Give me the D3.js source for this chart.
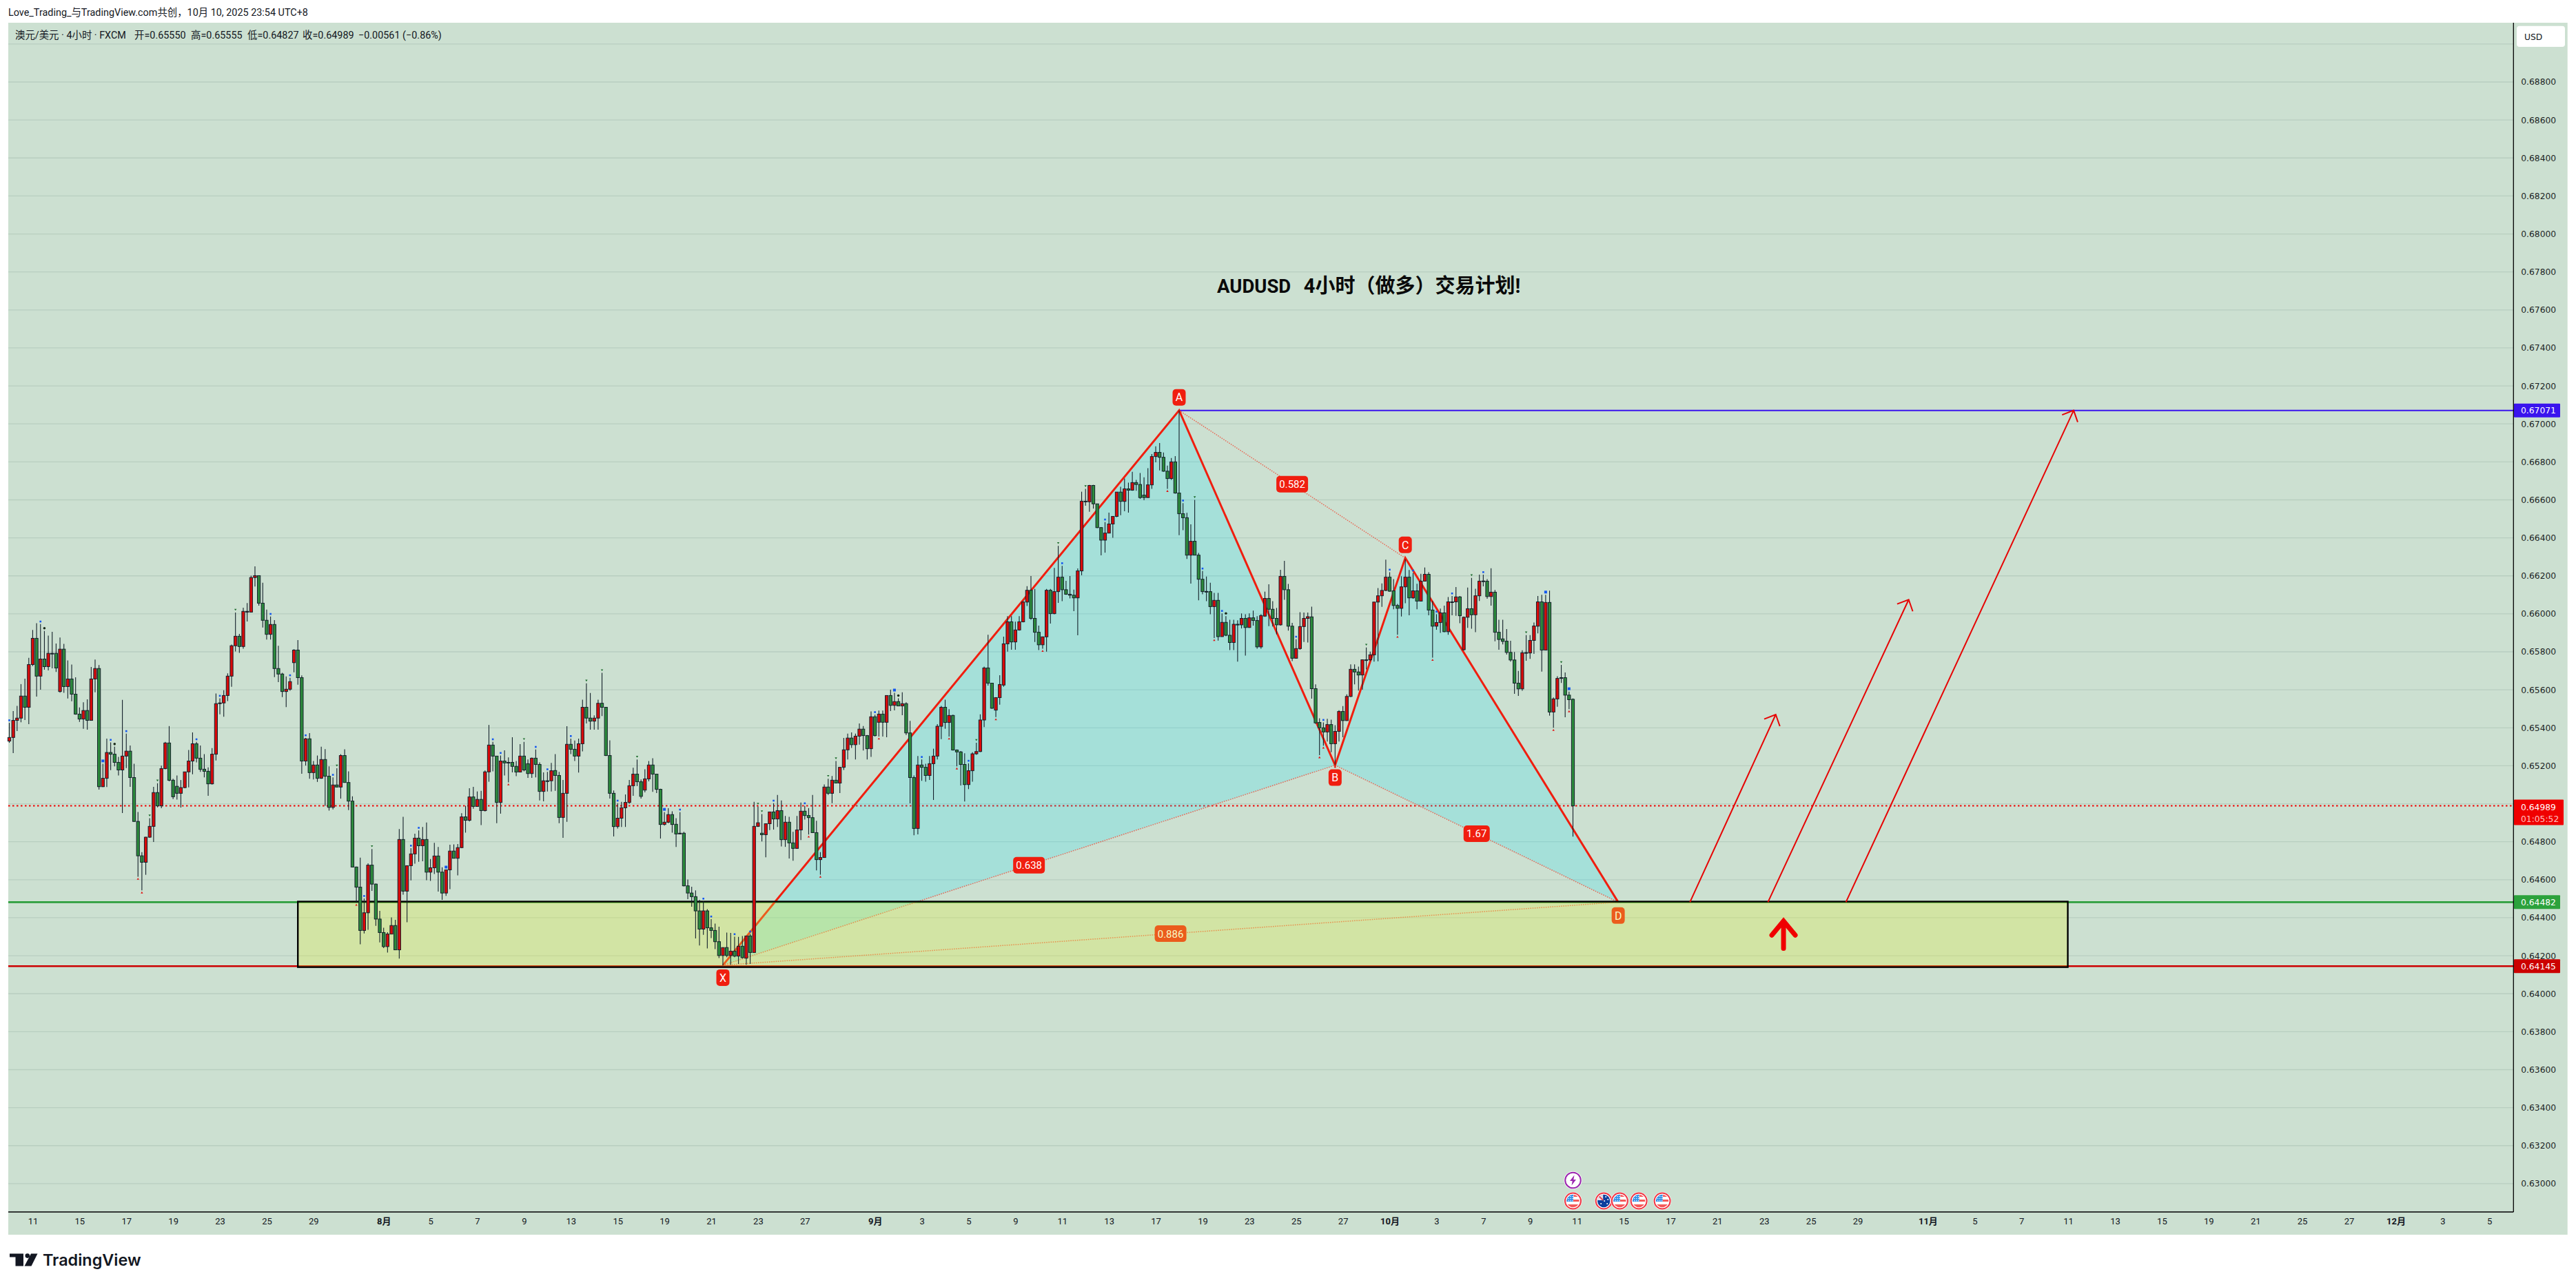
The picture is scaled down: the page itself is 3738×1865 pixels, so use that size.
<!DOCTYPE html>
<html>
<head>
<meta charset="utf-8">
<title>AUDUSD 4H</title>
<script src="https://cdn.jsdelivr.net/npm/d3@7"></script>
<style>
  html, body { margin: 0; padding: 0; background: #fff; }
  svg { display: block; }
  text { font-family: "Roboto", "Noto Sans CJK SC", sans-serif; white-space: pre; }
</style>
</head>
<body>
<svg id="chart" width="3738" height="1865"></svg>
<script>
// AUD/USD 4-hour candles, in points of 0.00001.
const opens = [
65330,65349,65439,65451,65567,65508,65733,65871,65672,65762,
65722,65792,65792,65591,65814,65617,65657,65577,65472,65446,
65491,65439,65657,65712,65090,65134,65270,65261,65218,65178,
65251,65277,65138,64907,64726,64692,64824,64881,65059,64989,
65185,65320,65124,65092,65055,65085,65168,65225,65316,65240,
65182,65171,65105,65261,65527,65531,65570,65672,65832,65882,
65828,66009,66009,66191,66201,66056,65966,65892,65944,65712,
65683,65591,65603,65743,65809,65664,65225,65342,65164,65204,
65134,65233,65145,64981,65099,65088,65254,65112,65014,64667,
64561,64333,64426,64677,64577,64393,64322,64248,64314,64359,
64231,64812,64540,64674,64736,64819,64779,64812,64640,64663,
64725,64640,64530,64652,64751,64713,64769,64931,64913,65036,
64986,65023,64964,65168,65309,65251,65007,65225,65218,65218,
65197,65167,65251,65211,65159,65240,65207,65065,65121,65121,
65175,65149,64928,65055,65313,65287,65251,65316,65508,65451,
65435,65451,65529,65508,65254,65055,64880,64924,64979,65007,
65095,65156,65116,65072,65131,65204,65156,65076,64891,64903,
64943,64892,64841,64845,64568,64530,64511,64436,64340,64436,
64347,64333,64274,64201,64243,64201,64224,64198,64250,64187,
64304,64217,64881,64845,64837,64895,64957,64920,64964,64811,
64903,64794,64765,64862,64961,64938,64927,64848,64706,64717,
65088,65055,65124,65109,65192,65284,65346,65311,65356,65393,
65359,65290,65458,65429,65472,65429,65570,65518,65538,65515,
65527,65373,65138,64870,65204,65192,65149,65211,65251,65408,
65508,65428,65465,65283,65273,65207,65101,65174,65263,65275,
65441,65715,65635,65493,65559,65625,65842,65958,65852,65915,
65958,66062,66124,65976,65903,65837,65879,66124,66001,66117,
66193,66127,66103,66098,66084,66226,66593,66590,66676,66579,
66454,66388,66425,66473,66513,66641,66592,66658,66651,66691,
66681,66625,66612,66679,66828,66850,66824,66751,66712,66800,
66636,66527,66506,66309,66382,66309,66182,66118,66117,66038,
66071,65880,65955,65887,65849,65945,65942,65976,65928,65979,
65965,65826,65988,66081,66024,65976,65942,66197,66127,65935,
65766,65817,65933,65976,65984,65606,65428,65400,65378,65417,
65316,65381,65486,65438,65565,65708,65694,65678,65758,65758,
65784,66062,66095,66123,66193,66121,66044,66029,66142,66193,
66084,66121,66067,66172,66208,66020,65935,65954,66005,65906,
66063,66063,66089,65811,65982,66027,65995,66095,66173,66172,
66091,66114,65903,65868,65856,65797,65757,65635,65605,65796,
65794,65860,65935,66063,65809,66060,65483,65552,65664,65664,
65572,65550];

const highs = [
65426,65488,65515,65630,65659,65768,65915,65951,65946,65910,
65885,65905,65844,65875,65842,65755,65733,65666,65507,65534,
65550,65720,65759,65730,65211,65343,65323,65300,65247,65547,
65369,65307,65211,64957,64745,64826,64924,65089,65108,65201,
65326,65409,65132,65149,65125,65168,65283,65376,65326,65307,
65261,65192,65293,65581,65555,65598,65687,65838,66007,65894,
66032,66057,66201,66250,66201,66164,66022,65986,65967,65832,
65689,65670,65663,65814,65862,65676,65347,65372,65225,65254,
65300,65288,65197,65139,65187,65261,65287,65171,65039,64669,
64716,64501,64686,64762,64580,64436,64347,64324,64402,64389,
64867,64931,64674,64766,64842,64860,64878,64901,64709,64794,
64773,64666,64652,64784,64786,64788,64950,64989,65082,65089,
65065,65068,65175,65415,65326,65251,65254,65281,65244,65350,
65225,65314,65326,65233,65243,65286,65218,65165,65168,65215,
65261,65168,65125,65408,65343,65333,65343,65548,65634,65583,
65465,65548,65689,65510,65334,65070,65003,65010,65049,65125,
65190,65233,65128,65182,65225,65240,65156,65079,64956,64977,
64960,64924,64956,64852,64601,64563,64544,64494,64487,64445,
64393,64369,64353,64243,64322,64320,64300,64299,64304,64304,
64314,65010,64986,64946,64895,64957,65003,65046,65017,64936,
64931,64852,64936,65007,64989,64977,65046,64910,64745,65102,
65132,65146,65225,65192,65347,65369,65376,65369,65423,65409,
65362,65486,65469,65491,65491,65570,65601,65584,65555,65587,
65534,65436,65149,65251,65233,65211,65251,65290,65419,65515,
65548,65498,65469,65286,65278,65266,65213,65271,65321,65471,
65722,65890,65636,65559,65677,65880,65988,65988,65959,65988,
66067,66146,66199,66131,65938,65879,66131,66131,66242,66358,
66253,66174,66199,66127,66239,66643,66658,66679,66679,66579,
66457,66483,66533,66513,66641,66669,66712,66691,66748,66705,
66741,66719,66767,66841,66882,66899,66849,66780,66820,66830,
67071,66583,66532,66471,66600,66321,66225,66196,66164,66110,
66110,66002,65988,65969,65969,65966,66002,65998,66002,66017,
65988,65998,66117,66156,66067,66031,66232,66279,66157,65952,
65866,66009,66007,66007,66038,65629,65450,65428,65447,65443,
65414,65493,65514,65576,65734,65734,65722,65758,65823,65801,
66062,66136,66160,66285,66219,66183,66052,66198,66287,66231,
66215,66158,66211,66244,66219,66068,65998,66028,66043,66088,
66094,66141,66094,65986,66138,66189,66132,66206,66206,66183,
66240,66126,65969,65969,65920,65858,65799,65699,65808,65888,
65888,65954,66094,66100,66100,66122,65560,65671,65731,65691,
65591,65555];

const lows = [
65321,65267,65383,65429,65441,65419,65725,65564,65601,65706,
65702,65713,65694,65585,65584,65554,65540,65469,65431,65395,
65390,65437,65587,65075,65088,65088,65177,65197,65149,64951,
65188,65089,64905,64616,64544,64626,64821,64799,64981,64977,
65182,65118,65025,65022,64980,65082,65086,65155,65218,65168,
65139,65042,65101,65228,65471,65458,65541,65616,65802,65795,
65816,65960,66009,66144,66043,65928,65864,65864,65667,65640,
65562,65509,65595,65692,65627,65158,65201,65132,65128,65115,
65132,64989,64964,64970,65086,65027,65111,64967,64666,64479,
64260,64317,64336,64541,64357,64270,64240,64217,64313,64231,
64185,64521,64376,64597,64685,64695,64697,64598,64594,64630,
64538,64494,64515,64550,64713,64623,64766,64848,64907,64974,
64984,64888,64959,65116,65171,64898,64948,65149,65113,65165,
65145,65165,65171,65136,65136,65139,65017,65013,65065,65065,
65068,64898,64821,64905,65261,65225,65164,65276,65423,65390,
65390,65390,65462,65251,65027,64828,64870,64878,64878,65000,
65042,65093,65027,65060,65118,65063,65056,64817,64885,64898,
64848,64773,64840,64565,64498,64458,64291,64254,64310,64238,
64293,64235,64188,64149,64192,64152,64192,64157,64185,64152,
64157,64217,64878,64802,64718,64861,64864,64878,64775,64773,
64712,64700,64763,64809,64917,64838,64848,64649,64627,64717,
65046,65003,65108,65056,65178,65233,65294,65233,65311,65280,
65233,65247,65354,65354,65354,65350,65488,65492,65515,65466,
65362,65002,64834,64839,65121,65116,65125,65020,65233,65340,
65395,65354,65280,65197,65096,65012,65077,65116,65258,65272,
65404,65622,65500,65456,65522,65616,65801,65811,65811,65912,
65955,66041,65969,65852,65809,65816,65801,65949,65998,66058,
66067,66100,66081,66014,65887,66203,66569,66537,66554,66451,
66308,66322,66425,66400,66509,66519,66540,66533,66648,66648,
66605,66598,66612,66658,66798,66755,66748,66658,66705,66633,
66414,66440,66289,66159,66308,66071,66103,66067,65998,65873,
65859,65880,65883,65809,65809,65748,65923,65780,65926,65938,
65816,65816,65984,65935,65933,65892,65938,66074,65912,65751,
65764,65811,65852,65849,65553,65421,65256,65306,65328,65271,
65206,65328,65350,65436,65562,65629,65596,65601,65708,65751,
65748,65750,66037,66119,66117,66024,65890,65986,66056,65992,
66079,66024,66066,66170,65992,65769,65916,65900,65903,65890,
65992,65990,65951,65806,65926,65922,65903,66068,66145,66079,
66043,65855,65811,65839,65786,65748,65579,65568,65595,65753,
65763,65789,65897,65696,65808,65464,65400,65511,65636,65455,
65498,64827];

const closes = [
65349,65439,65451,65567,65508,65733,65871,65672,65762,65722,
65792,65789,65715,65814,65617,65657,65577,65472,65446,65491,
65439,65657,65712,65090,65134,65270,65261,65218,65178,65251,
65277,65138,64907,64726,64692,64824,64881,65059,64989,65185,
65320,65124,65037,65055,65085,65168,65225,65316,65240,65181,
65171,65105,65261,65527,65531,65570,65672,65832,65882,65828,
66013,66013,66191,66201,66056,65966,65892,65944,65712,65683,
65591,65603,65643,65809,65664,65225,65342,65164,65204,65134,
65233,65145,64981,65099,65088,65254,65112,65014,64667,64561,
64333,64426,64677,64577,64393,64322,64248,64314,64359,64231,
64812,64540,64674,64736,64819,64779,64812,64640,64663,64725,
64640,64530,64652,64751,64713,64769,64931,64913,65036,64986,
65023,64964,65168,65309,65251,65007,65225,65215,65215,65197,
65167,65251,65178,65159,65240,65207,65065,65121,65118,65174,
65149,64928,65055,65313,65287,65251,65316,65508,65451,65435,
65451,65529,65508,65254,65055,64880,64924,64979,65007,65095,
65156,65116,65039,65131,65204,65156,65076,64891,64903,64943,
64891,64841,64845,64568,64530,64511,64436,64340,64436,64347,
64333,64274,64201,64243,64201,64224,64198,64250,64190,64304,
64217,64881,64900,64837,64895,64957,64920,64964,64811,64903,
64794,64765,64862,64961,64938,64927,64848,64706,64717,65088,
65055,65124,65109,65192,65284,65346,65311,65356,65393,65359,
65290,65458,65359,65472,65429,65570,65518,65538,65515,65527,
65373,65138,64870,65204,65192,65149,65211,65251,65408,65508,
65428,65465,65283,65273,65207,65101,65174,65263,65275,65441,
65715,65635,65503,65559,65628,65842,65958,65852,65915,65958,
66062,66124,65976,65903,65837,65879,66124,66001,66117,66193,
66127,66103,66098,66084,66226,66593,66590,66676,66579,66454,
66388,66425,66473,66513,66641,66592,66658,66651,66691,66681,
66612,66612,66679,66828,66850,66824,66751,66712,66800,66636,
66527,66506,66309,66382,66309,66182,66117,66115,66038,66071,
65880,65955,65887,65849,65945,65942,65976,65928,65979,65965,
65826,65991,66081,66024,65976,65942,66197,66127,65935,65766,
65817,65933,65976,65985,65606,65426,65400,65378,65417,65316,
65381,65486,65438,65565,65708,65694,65678,65758,65755,65784,
66062,66095,66123,66193,66119,66044,66029,66142,66193,66084,
66121,66067,66172,66208,66020,65935,65954,66005,65906,66063,
66062,66089,65990,65982,66027,65995,66095,66172,66171,66091,
66114,65903,65865,65855,65797,65757,65635,65605,65795,65794,
65860,65936,66063,65809,66060,65483,65552,65660,65660,65572,
65548,64989];

// Signal markers of the overlay indicator, by bar number (first bar = 1).
const blueMarks = [1,9,25,27,31,49,55,68,73,77,84,92,104,106,113,125,127,136,139,145,157,169,173,179,181,187,191,197,205,223,228,235,247,271,282,302,307,312,331,338,355,361,367,371,379,395,401];
const largeBlueMarks = [25,169,228,395,401,113];
const greenMarks = [37,39,59,85,94,133,149,153,162,193,194,211,213,249,270,277,305,349,376,390,399];
const darkDots = [10,28,229,313];
const redMarks = [34,35,90,129,206,209,224,242,244,254,266,298,310,337,338,341,357,366,397,401];

// Time axis: bar index and day or month label.
const timeTickBars = [6,18,30,42,54,66,78,96,108,120,132,144,156,168,180,192,204,222,234,246,258,270,282,294,306,318,330,342,354,366,378,390,402,414,426,438,450,462,474,492,504,516,528,540,552,564,576,588,600,612,624,636];
const timeTickLabels = ["11","15","17","19","23","25","29","8月","5","7","9","13","15","19","21","23","27","9月","3","5","9","11","13","17","19","23","25","27","10月","3","7","9","11","15","17","21","23","25","29","11月","5","7","11","13","15","19","21","25","27","12月","3","5"];

// Price levels, in points.
const gridPrices = d3.range(63000, 69001, 200);
const axisPrices = d3.range(63000, 68801, 200);
const targetLevel = 67071;
const closeLevel = 64989;
const zoneTop = 64482;
const zoneBottom = 64145;

// XABCD harmonic pattern, in bar index and points.
const pivotNames = ["X", "A", "B", "C", "D"];
const pivotBars = [183, 300, 340, 358, 412.6];
const pivotPrices = [64150, 67071, 65203, 66294, 64482];
const ratioLegs = [["X","B","0.638"],["A","C","0.582"],["B","D","1.67"],["X","D","0.886"]];

// Projected moves off the support zone.
const projectionStartBars = [431, 451, 471];
const projectionEndBars = [453, 487.1, 529.4];
const projectionEndPrices = [65470, 66075, 67071];

// Calendar events shown above the time axis.
const flagEventBars = [401, 408.9, 413, 417.9, 423.9];
const flagEventKinds = ["US", "AU", "US", "US", "US"];

const paneBg = "#cce0d1", gridColor = "#b8cec0", upColor = "#d90a0a", downColor = "#2c8a3c", edgeColor = "#14202a";
const pane = { left: 12, right: 3725.7, top: 33, bottom: 1792, axisX: 3647.3, axisY: 1759 };
const axisFont = '"DejaVu Sans", sans-serif';

const x = d3.scaleLinear().domain([0, 401]).range([13.5, 2282.5]);
const y = d3.scaleLinear().domain([68800, 63000]).range([119, 1717.9]);

const svg = d3.select("#chart");
const defs = svg.append("defs");
const fmt = p => (p * 1e-5).toFixed(5);

svg.append("rect").attr("x", pane.left).attr("y", pane.top)
  .attr("width", pane.right - pane.left).attr("height", pane.bottom - pane.top).attr("fill", paneBg);

// Grid
svg.append("g").selectAll("line").data(gridPrices).join("line")
  .attr("x1", pane.left).attr("x2", pane.axisX)
  .attr("y1", d => y(d)).attr("y2", d => y(d))
  .attr("stroke", gridColor).attr("stroke-width", 1.3);

// Horizontal levels
const hline = (level, x1, color, width, dash) => svg.append("line")
  .attr("x1", x1).attr("x2", pane.axisX).attr("y1", y(level)).attr("y2", y(level))
  .attr("stroke", color).attr("stroke-width", width).attr("stroke-dasharray", dash || null);

hline(closeLevel, pane.left, "#f00000", 2, "2.5 3.5");
hline(zoneTop, pane.left, "#2c9e3b", 2.6);
hline(zoneBottom, pane.left, "#cc0000", 2.6);

// Harmonic pattern
const pivots = Object.fromEntries(pivotNames.map((n, i) => [n, [x(pivotBars[i]), y(pivotPrices[i])]]));
const patternRed = "#f01e0f";
const line = d3.line();

svg.append("path").attr("d", line([pivots.X, pivots.A, pivots.B]) + "Z").attr("fill", "rgba(0,224,255,0.19)");
svg.append("path").attr("d", line([pivots.B, pivots.C, pivots.D]) + "Z").attr("fill", "rgba(0,224,255,0.19)");

ratioLegs.forEach(([a, b]) => svg.append("line")
  .attr("x1", pivots[a][0]).attr("y1", pivots[a][1]).attr("x2", pivots[b][0]).attr("y2", pivots[b][1])
  .attr("stroke", "#f0503c").attr("stroke-width", 1.5).attr("stroke-dasharray", "1.6 1.6").attr("opacity", 0.8));

hline(targetLevel, pivots.A[0], "#3a14ee", 2);

svg.append("path").attr("d", line(pivotNames.map(n => pivots[n])))
  .attr("fill", "none").attr("stroke", patternRed).attr("stroke-width", 3).attr("stroke-linejoin", "miter");

// Point and ratio tags
const tag = (cx, cy, w, label, size) => {
  const g = svg.append("g");
  g.append("rect").attr("x", cx - w / 2).attr("y", cy - 12).attr("width", w).attr("height", 24)
    .attr("rx", 5).attr("fill", patternRed);
  g.append("text").attr("x", cx).attr("y", cy + size * 0.36).attr("text-anchor", "middle")
    .attr("font-size", size).attr("fill", "#fff").text(label);
};
const tagOffsets = { X: 18, A: -19, B: 18, C: -19, D: 19.5 };
pivotNames.forEach(n => tag(pivots[n][0], pivots[n][1] + tagOffsets[n], 19, n, 16));
ratioLegs.forEach(([a, b, label]) => tag((pivots[a][0] + pivots[b][0]) / 2, (pivots[a][1] + pivots[b][1]) / 2,
  label.length > 4 ? 46 : 38, label, 15));

// Support zone, semi-transparent over everything drawn so far
svg.append("rect")
  .attr("x", x(74)).attr("y", y(64485)).attr("width", x(527.9) - x(74))
  .attr("height", y(64140) - y(64485))
  .attr("fill", "rgba(226,238,60,0.3)").attr("stroke", "#000").attr("stroke-width", 2.4);

// Projection arrows
projectionStartBars.forEach((bar, i) => {
  const x0 = x(bar), y0 = y(zoneTop), x1 = x(projectionEndBars[i]), y1 = y(projectionEndPrices[i]);
  const back = Math.atan2(y0 - y1, x0 - x1), wing = 18, spread = 44 * Math.PI / 180;
  svg.append("path")
    .attr("d", `M${x0},${y0}L${x1},${y1}M${x1 + wing * Math.cos(back + spread)},${y1 + wing * Math.sin(back + spread)}` +
      `L${x1},${y1}L${x1 + wing * Math.cos(back - spread)},${y1 + wing * Math.sin(back - spread)}`)
    .attr("fill", "none").attr("stroke", "#e60505").attr("stroke-width", 2);
});

// Long-entry arrow inside the zone
{
  const bar = 455, cx = x(bar), tip = y(64390), foot = y(64238), barb = y(64308);
  svg.append("path")
    .attr("d", `M${cx},${foot}L${cx},${tip + 2}M${cx - 17},${barb}L${cx},${tip + 2}L${cx + 17},${barb}`)
    .attr("fill", "none").attr("stroke", "#f00000").attr("stroke-width", 7)
    .attr("stroke-linecap", "round").attr("stroke-linejoin", "miter");
}

// Candles
const bars = d3.range(opens.length);
const candles = svg.append("g");
candles.selectAll("line").data(bars).join("line")
  .attr("x1", i => x(i)).attr("x2", i => x(i))
  .attr("y1", i => y(highs[i])).attr("y2", i => y(lows[i]))
  .attr("stroke", edgeColor).attr("stroke-width", 1.1);
candles.selectAll("rect").data(bars).join("rect")
  .attr("x", i => x(i) - 2.1).attr("width", 4.2)
  .attr("y", i => y(Math.max(opens[i], closes[i])))
  .attr("height", i => Math.max(1, Math.abs(y(opens[i]) - y(closes[i]))))
  .attr("fill", i => closes[i] >= opens[i] ? upColor : downColor)
  .attr("stroke", edgeColor).attr("stroke-width", 1);

// Indicator markers
const marks = svg.append("g");
marks.selectAll(".b").data(blueMarks).join("rect").attr("class", "b")
  .attr("x", n => x(n - 1) - (largeBlueMarks.includes(n) ? 2 : 1.3))
  .attr("y", n => y(highs[n - 1]) - (largeBlueMarks.includes(n) ? 6 : 5))
  .attr("width", n => largeBlueMarks.includes(n) ? 4 : 2.6)
  .attr("height", n => largeBlueMarks.includes(n) ? 4 : 2.6)
  .attr("fill", "#1256f0");
marks.selectAll(".g").data(greenMarks).join("path").attr("class", "g")
  .attr("transform", n => `translate(${x(n - 1)},${y(highs[n - 1]) - 4})`)
  .attr("d", "M-1.7,-1.2L1.7,-1.2L0,1.4Z").attr("fill", "#1a6a2a");
marks.selectAll(".k").data(darkDots).join("circle").attr("class", "k")
  .attr("cx", n => x(n - 1)).attr("cy", n => y(highs[n - 1]) - 4).attr("r", 1.8).attr("fill", "#1a2a1a");
marks.selectAll(".r").data(redMarks).join("path").attr("class", "r")
  .attr("transform", n => `translate(${x(n - 1)},${y(lows[n - 1]) + 3})`)
  .attr("d", "M-1.7,1.4L1.7,1.4L0,-1.4Z").attr("fill", "#e01010");

// Axes
const priceAxis = d3.axisRight(y).tickValues(axisPrices).tickSize(0).tickPadding(11).tickFormat(fmt);
const priceG = svg.append("g").attr("transform", `translate(${pane.axisX},0)`).call(priceAxis);
priceG.select(".domain").remove();
priceG.selectAll("text").attr("font-size", 12.3).attr("fill", "#1b1f24").style("font-family", axisFont);

const tickLabel = new Map(timeTickBars.map((b, i) => [b, timeTickLabels[i]]));
const timeAxis = d3.axisBottom(x).tickValues(timeTickBars).tickSize(0).tickPadding(9).tickFormat(b => tickLabel.get(b));
const timeG = svg.append("g").attr("transform", `translate(0,${pane.axisY})`).call(timeAxis);
timeG.select(".domain").remove();
timeG.selectAll("text").attr("font-size", 13).attr("fill", "#131722")
  .attr("font-weight", b => /月/.test(tickLabel.get(b)) ? 700 : 400);

svg.append("line").attr("x1", pane.axisX).attr("x2", pane.axisX).attr("y1", pane.top).attr("y2", pane.axisY)
  .attr("stroke", "#000").attr("stroke-width", 1.3);
svg.append("line").attr("x1", pane.left).attr("x2", pane.axisX).attr("y1", pane.axisY).attr("y2", pane.axisY)
  .attr("stroke", "#000").attr("stroke-width", 1.3);

// Price tags on the axis
const priceTag = (level, color, w) => {
  const cy = y(level);
  svg.append("rect").attr("x", pane.axisX + 0.7).attr("y", cy - 10).attr("width", w).attr("height", 20).attr("rx", 1).attr("fill", color);
  svg.append("text").attr("x", pane.axisX + 10.7).attr("y", cy + 4.6).attr("font-size", 12.3).attr("font-weight", 500)
    .attr("fill", "#fff").style("font-family", axisFont).text(fmt(level));
};
priceTag(targetLevel, "#3a14ee", 67);
priceTag(zoneTop, "#2ca23c", 67);
priceTag(zoneBottom, "#cc0000", 67);
{
  const cy = y(closeLevel);
  svg.append("rect").attr("x", pane.axisX + 0.7).attr("y", cy - 9).attr("width", 72).attr("height", 37).attr("rx", 1).attr("fill", "#f00000");
  svg.append("text").attr("x", pane.axisX + 10.7).attr("y", cy + 6).attr("font-size", 12.3)
    .attr("fill", "#fff").style("font-family", axisFont).text(fmt(closeLevel));
  svg.append("text").attr("x", pane.axisX + 10.7).attr("y", cy + 23).attr("font-size", 12.3)
    .attr("fill", "#ffc4c4").style("font-family", axisFont).text("01:05:52");
}

// Currency button
svg.append("rect").attr("x", 3652).attr("y", 37.7).attr("width", 70).attr("height", 30.3).attr("rx", 4).attr("fill", "#fff");
svg.append("text").attr("x", 3663).attr("y", 57.5).attr("font-size", 12.3).attr("fill", "#131722")
  .style("font-family", axisFont).text("USD");

// Title: narrower Latin run, then the CJK run
{
  const title = svg.append("text").attr("x", 1766).attr("y", 425).attr("font-weight", 700).attr("fill", "#0a0a0a");
  title.append("tspan").attr("font-size", 27.5).style("font-family", '"Roboto", sans-serif').text("AUDUSD  ");
  title.append("tspan").attr("font-size", 29).attr("dx", 5).style("font-family", '"Roboto", "Noto Sans CJK SC", sans-serif')
    .text("4小时（做多）交易计划!");
}

// Header lines
svg.append("text").attr("x", 12).attr("y", 23).attr("font-size", 14.4).attr("fill", "#131722")
  .text("Love_Trading_与TradingView.com共创，10月 10, 2025 23:54 UTC+8");

const last = opens.length - 1;
const legendParts = [
  [22, "澳元/美元 · 4小时 · FXCM"],
  [195, `开=${fmt(opens[last])}`],
  [277, `高=${fmt(highs[last])}`],
  [359, `低=${fmt(lows[last])}`],
  [439, `收=${fmt(closes[last])}`],
  [520, "−0.00561 (−0.86%)"]
];
svg.append("g").selectAll("text").data(legendParts).join("text")
  .attr("x", d => d[0]).attr("y", 56).attr("font-size", 14.4).attr("fill", "#131722").text(d => d[1]);

// Calendar event badges
const flagClip = defs.append("clipPath").attr("id", "flagClip");
flagClip.append("circle").attr("r", 9.2);
const drawFlag = (cx, cy, kind) => {
  const g = svg.append("g").attr("transform", `translate(${cx},${cy})`);
  g.append("circle").attr("r", 13).attr("fill", "#fff");
  g.append("circle").attr("r", 11.5).attr("fill", "#fff").attr("stroke", "#f23645").attr("stroke-width", 2);
  const inner = g.append("g").attr("clip-path", "url(#flagClip)");
  if (kind === "US") {
    inner.append("rect").attr("x", -10).attr("y", -10).attr("width", 20).attr("height", 20).attr("fill", "#fff");
    inner.append("rect").attr("x", -10).attr("y", -2).attr("width", 20).attr("height", 3).attr("fill", "#f45a5a");
    inner.append("rect").attr("x", -10).attr("y", 5).attr("width", 20).attr("height", 5).attr("fill", "#f45a5a");
    inner.append("rect").attr("x", 1).attr("y", -9).attr("width", 10).attr("height", 3).attr("fill", "#f45a5a");
    inner.append("rect").attr("x", -10).attr("y", -10).attr("width", 10.5).attr("height", 11).attr("fill", "#2f8fe8");
    [-7, -4, -1].forEach(dx => [-7, -4, -1].forEach(dy =>
      inner.append("rect").attr("x", dx).attr("y", dy).attr("width", 1.3).attr("height", 1.3).attr("fill", "#fff")));
  } else {
    inner.append("rect").attr("x", -10).attr("y", -10).attr("width", 20).attr("height", 20).attr("fill", "#0d3f9e");
    inner.append("rect").attr("x", -10).attr("y", -10).attr("width", 9).attr("height", 9).attr("fill", "#e8e0ea");
    inner.append("path").attr("d", "M-9,-9L-1,-1").attr("stroke", "#e24a5a").attr("stroke-width", 2);
    [[3, -6], [6, -2], [1, 0], [5, 4], [-4, 4]].forEach(([dx, dy]) =>
      inner.append("circle").attr("cx", dx).attr("cy", dy).attr("r", 1).attr("fill", "#fff"));
  }
};
flagEventBars.forEach((b, i) => drawFlag(x(b), 1743, flagEventKinds[i]));
{
  const g = svg.append("g").attr("transform", `translate(${x(401)},1713)`);
  g.append("circle").attr("r", 13).attr("fill", "#fff");
  g.append("circle").attr("r", 11.3).attr("fill", "#fff").attr("stroke", "#9c27b0").attr("stroke-width", 2);
  g.append("path").attr("d", "M2,-7.5L-4.5,1L-0.8,1L-2,7.5L4.5,-1L0.8,-1Z").attr("fill", "#9c27b0");
}

// Brand mark
{
  const g = svg.append("g").attr("fill", "#131722");
  g.append("path").attr("d", "M14,1819.5H34V1837.5H22.5V1824.5H14Z");
  g.append("circle").attr("cx", 39.8).attr("cy", 1822.6).attr("r", 3.3);
  g.append("path").attr("d", "M45,1819.5H54.5L45.5,1837.5H35.5Z");
  g.append("text").attr("x", 62).attr("y", 1837).attr("font-size", 23.4).attr("font-weight", 600)
    .style("font-family", '"Inter", sans-serif').text("TradingView");
}
</script>
</body>
</html>
